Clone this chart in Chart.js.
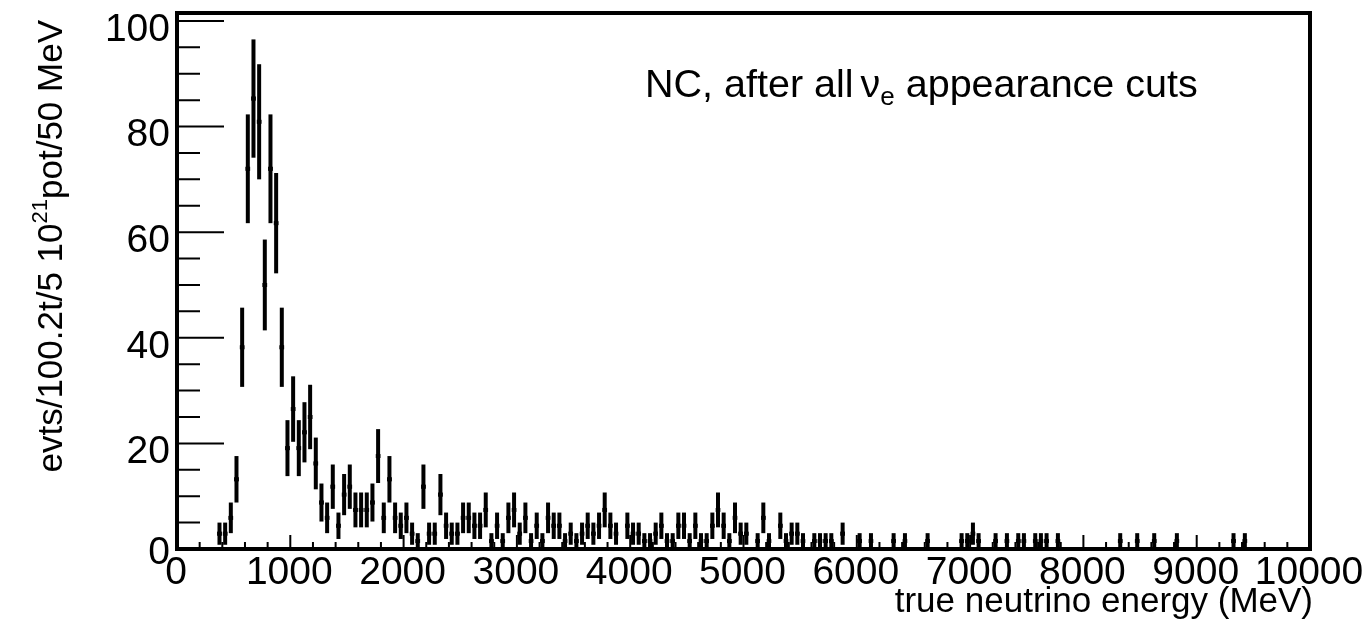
<!DOCTYPE html>
<html>
<head>
<meta charset="utf-8">
<title>NC true neutrino energy</title>
<script src="https://cdn.jsdelivr.net/npm/chart.js@4.4.1/dist/chart.umd.min.js"></script>
<style>
html, body { margin:0; padding:0; background:#fff; }
#wrap { width:1364px; height:635px; }
</style>
</head>
<body>
<div id="wrap"><canvas id="nc-energy" width="1364" height="635"></canvas></div>
<script>

// 50 MeV bins, lower edge of each non-empty bin
var binWidth = 50;
var binLow = [
  350,400,450,500,550,600,650,700,750,800,
  850,900,950,1000,1050,1100,1150,1200,1250,1300,
  1350,1400,1450,1500,1550,1600,1650,1700,1750,1800,
  1850,1900,1950,2000,2050,2100,2150,2200,2250,2300,
  2350,2400,2450,2500,2550,2600,2650,2700,2750,2800,
  2850,2900,2950,3000,3050,3100,3150,3200,3250,3300,
  3350,3400,3450,3500,3550,3600,3650,3700,3750,3800,
  3850,3950,4000,4050,4100,4150,4200,4250,4300,4350,
  4400,4450,4500,4550,4600,4650,4700,4750,4800,4850,
  4900,4950,5000,5100,5150,5200,5300,5350,5400,5450,
  5500,5600,5650,5700,5750,5850,6000,6100,6300,6400,
  6600,6900,6950,7000,7050,7200,7300,7400,7450,7550,
  7600,7650,7750,8300,8450,8600,8800,9300,9400
];
var binValue = [
  2.9,2.9,5.9,13.2,38.2,72.0,85.3,80.9,50.0,72.0,
  61.7,38.2,19.1,26.5,19.1,22.1,25.0,16.2,8.8,5.9,
  11.8,4.4,10.3,11.8,7.4,7.4,7.4,8.8,17.6,5.9,
  13.2,5.9,4.4,5.9,2.9,1.5,11.8,2.9,2.9,10.3,
  4.4,2.9,2.9,5.9,5.9,4.4,4.4,7.4,1.5,4.4,
  1.5,5.9,7.4,2.9,5.9,1.5,4.4,1.5,5.9,4.4,
  4.4,1.5,2.9,1.5,2.9,4.4,2.9,4.4,7.4,4.4,
  2.9,4.4,2.9,2.9,1.5,1.5,2.9,4.4,1.5,1.5,
  4.4,4.4,1.5,4.4,1.5,1.5,4.4,7.4,4.4,1.5,
  5.9,2.9,2.9,1.5,5.9,1.5,4.4,1.5,2.9,2.9,
  1.5,1.5,1.5,1.5,1.5,2.9,1.5,1.5,1.5,1.5,
  1.5,1.5,1.5,2.9,1.5,1.5,1.5,1.5,1.5,1.5,
  1.5,1.5,1.5,1.5,1.5,1.5,1.5,1.5,1.5
];
var binError = [
  2.1,2.1,2.9,4.4,7.5,10.3,11.2,10.9,8.6,10.3,
  9.5,7.5,5.3,6.2,5.3,5.7,6.1,4.9,3.6,2.9,
  4.2,2.5,3.9,4.2,3.3,3.3,3.3,3.6,5.1,2.9,
  4.4,2.9,2.5,2.9,2.1,1.5,4.2,2.1,2.1,3.9,
  2.5,2.1,2.1,2.9,2.9,2.5,2.5,3.3,1.5,2.5,
  1.5,2.9,3.3,2.1,2.9,1.5,2.5,1.5,2.9,2.5,
  2.5,1.5,2.1,1.5,2.1,2.5,2.1,2.5,3.3,2.5,
  2.1,2.5,2.1,2.1,1.5,1.5,2.1,2.5,1.5,1.5,
  2.5,2.5,1.5,2.5,1.5,1.5,2.5,3.3,2.5,1.5,
  2.9,2.1,2.1,1.5,2.9,1.5,2.5,1.5,2.1,2.1,
  1.5,1.5,1.5,1.5,1.5,2.1,1.5,1.5,1.5,1.5,
  1.5,1.5,1.5,2.1,1.5,1.5,1.5,1.5,1.5,1.5,
  1.5,1.5,1.5,1.5,1.5,1.5,1.5,1.5,1.5
];

var xTicks = [0,1000,2000,3000,4000,5000,6000,7000,8000,9000,10000];
var yTicks = [0,20,40,60,80,100];
var xMinorStep = 200;
var yMinorStep = 5;
var xMax = 10000;
var yMax = 101.5;

var FONT = '"Liberation Sans", Arial, Helvetica, sans-serif';

var points = [];
for (var i = 0; i < binLow.length; i++) {
    points.push({x: binLow[i] + binWidth / 2, y: binValue[i]});
}

// ROOT style error bars: vertical +-err, horizontal over the bin
var errorBars = {
    id: 'errorBars',
    afterDatasetsDraw: function(chart) {
        var ctx = chart.ctx, xs = chart.scales.x, ys = chart.scales.y;
        ctx.save();
        ctx.strokeStyle = '#000';
        ctx.lineWidth = 4;
        for (var i = 0; i < binLow.length; i++) {
            var xc = xs.getPixelForValue(binLow[i] + binWidth / 2);
            var yv = ys.getPixelForValue(binValue[i]);
            ctx.beginPath();
            ctx.moveTo(xc, ys.getPixelForValue(Math.max(0, binValue[i] - binError[i])));
            ctx.lineTo(xc, ys.getPixelForValue(binValue[i] + binError[i]));
            ctx.stroke();
            ctx.beginPath();
            ctx.moveTo(xs.getPixelForValue(binLow[i]) + 0.5, yv);
            ctx.lineTo(xs.getPixelForValue(binLow[i] + binWidth) - 0.5, yv);
            ctx.stroke();
        }
        ctx.restore();
    }
};

// frame, inward ticks, labels and titles
var rootFrame = {
    id: 'rootFrame',
    afterDraw: function(chart) {
        var ctx = chart.ctx, a = chart.chartArea;
        var xs = chart.scales.x, ys = chart.scales.y;
        ctx.save();
        ctx.strokeStyle = '#000';
        ctx.fillStyle = '#000';

        // ticks
        ctx.lineWidth = 2;
        ctx.beginPath();
        for (var v = 0; v <= xMax; v += xMinorStep) {
            var px = xs.getPixelForValue(v);
            var len = (v % 1000 === 0) ? 14 : 7;
            ctx.moveTo(px, a.bottom);
            ctx.lineTo(px, a.bottom - len);
        }
        for (var w = 0; w <= 100; w += yMinorStep) {
            var py = ys.getPixelForValue(w);
            var ln = (w % 20 === 0) ? 47 : 23;
            ctx.moveTo(a.left, py);
            ctx.lineTo(a.left + ln, py);
        }
        ctx.stroke();

        // frame
        ctx.lineWidth = 4;
        ctx.strokeRect(a.left, a.top, a.right - a.left, a.bottom - a.top);

        // tick labels
        ctx.font = '39px ' + FONT;
        ctx.textAlign = 'center';
        ctx.textBaseline = 'top';
        xTicks.forEach(function(t) {
            ctx.fillText(String(t), xs.getPixelForValue(t) - 1, a.bottom + 5);
        });
        ctx.textAlign = 'right';
        ctx.textBaseline = 'middle';
        yTicks.forEach(function(t) {
            ctx.fillText(String(t), a.left - 7, ys.getPixelForValue(t) + (t === 0 ? 4 : 9));
        });

        // x title
        ctx.font = '35px ' + FONT;
        ctx.textAlign = 'right';
        ctx.textBaseline = 'alphabetic';
        ctx.fillText('true neutrino energy (MeV)', a.right + 3, 612);

        // y title, rotated, ends at top of axis
        ctx.save();
        ctx.translate(62, 20);
        ctx.rotate(-Math.PI / 2);
        ctx.textAlign = 'left';
        var parts = [
            {t: 'evts/100.2t/5 10', size: 35, dy: 0},
            {t: '21', size: 22, dy: -15},
            {t: 'pot/50 MeV', size: 35, dy: 0}
        ];
        var total = 0;
        parts.forEach(function(p) { ctx.font = p.size + 'px ' + FONT; p.w = ctx.measureText(p.t).width; total += p.w; });
        var cx = -total;
        parts.forEach(function(p) { ctx.font = p.size + 'px ' + FONT; ctx.fillText(p.t, cx, p.dy); cx += p.w; });
        ctx.restore();

        // annotation
        ctx.textAlign = 'left';
        var ax = 645, ay = 97;
        ctx.font = '39.5px ' + FONT;
        var s1 = 'NC, after all ';
        ctx.fillText(s1, ax, ay);
        ax += ctx.measureText(s1).width - 4;
        ctx.fillText('\u03bd', ax, ay);
        ax += ctx.measureText('\u03bd').width;
        ctx.font = '26px ' + FONT;
        ctx.fillText('e', ax, ay + 8);
        ax += ctx.measureText('e').width;
        ctx.font = '39.5px ' + FONT;
        ctx.fillText(' appearance cuts', ax, ay);

        ctx.restore();
    }
};

var chart = new Chart(document.getElementById('nc-energy'), {
    type: 'scatter',
    data: {
        datasets: [{
            label: 'NC',
            data: points,
            pointStyle: 'rect',
            pointRadius: 2.8,
            pointHoverRadius: 2.8,
            backgroundColor: '#000',
            borderColor: '#000',
            borderWidth: 0,
            showLine: false
        }]
    },
    options: {
        responsive: false,
        animation: false,
        devicePixelRatio: 1,
        layout: { padding: { left: 177, right: 54, top: 13, bottom: 86 } },
        scales: {
            x: { type: 'linear', min: 0, max: xMax, display: false },
            y: { type: 'linear', min: 0, max: yMax, display: false }
        },
        plugins: {
            legend: { display: false },
            tooltip: { enabled: false }
        }
    },
    plugins: [errorBars, rootFrame]
});

</script>
</body>
</html>
